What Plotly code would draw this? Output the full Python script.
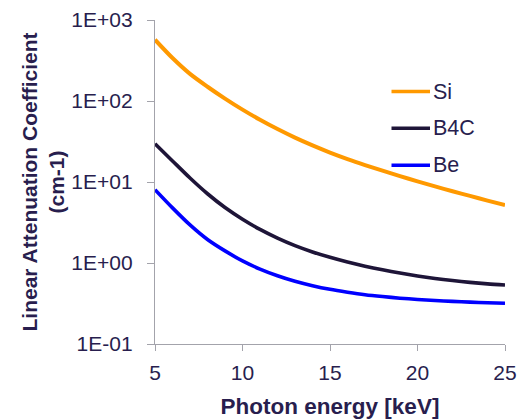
import plotly.graph_objects as go

energy = [5, 6, 7, 8, 9, 10, 11, 12, 13, 14, 15, 16, 17, 18, 19, 20, 21, 22, 23, 24, 25]
si = [571, 339, 216, 150, 107, 78.2, 58.6, 45.0, 35.3, 28.3, 23.1, 19.2, 16.2, 13.8, 11.8,
      10.2, 8.83, 7.69, 6.73, 5.90, 5.19]
b4c = [29.7, 18.2, 11.2, 7.16, 4.84, 3.47, 2.60, 2.03, 1.64, 1.37, 1.175, 1.028, 0.914, 0.824,
       0.752, 0.692, 0.644, 0.607, 0.577, 0.553, 0.535]
be = [8.04, 4.79, 2.95, 1.95, 1.41, 1.06, 0.841, 0.695, 0.594, 0.524, 0.473, 0.436, 0.406, 0.385,
      0.368, 0.355, 0.344, 0.336, 0.329, 0.323, 0.318]

series_names = ["Si", "B4C", "Be"]
series_colors = ["#FF9900", "#1e1538", "#0000FF"]

y_tickvals = [0.1, 1, 10, 100, 1000]
y_ticktext = ["1E-01", "1E+00", "1E+01", "1E+02", "1E+03"]
x_tickvals = [5, 10, 15, 20, 25]

TXT = "#281e4e"
AX = "#a3a3ab"

W, H = 517, 419
L, R, T, B = 155, 12, 20, 75
pw, ph = W - L - R, H - T - B


def px_x(p):
    return (p - L) / pw


def px_y(p):
    return (H - B - p) / ph


fig = go.Figure()
widths = [4, 3.6, 3.6]
for name, ys, col, w in zip(series_names, [si, b4c, be], series_colors, widths):
    fig.add_trace(go.Scatter(x=energy, y=ys, mode="lines", name=name, showlegend=False,
                             line=dict(color=col, width=w, shape="spline", smoothing=0.8)))

# manual legend (long line samples as in the reference)
leg_y = [91.5, 128.3, 165.3]
for name, col, yy in zip(series_names, series_colors, leg_y):
    fig.add_shape(type="line", xref="paper", yref="paper",
                  x0=px_x(391.5), x1=px_x(430), y0=px_y(yy), y1=px_y(yy),
                  line=dict(color=col, width=3.5))
    fig.add_annotation(xref="paper", yref="paper", x=px_x(431), y=px_y(yy),
                       xanchor="left", yanchor="middle", text=name, showarrow=False,
                       font=dict(size=21.5, color=TXT))

fig.update_layout(
    width=W, height=H,
    margin=dict(l=L, r=R, t=T, b=B, autoexpand=False),
    paper_bgcolor="white", plot_bgcolor="white",
    font=dict(family="Liberation Sans, Arial, sans-serif", color=TXT, size=21),
    showlegend=False,
    xaxis=dict(range=[5, 25], tickvals=x_tickvals, showline=True, linecolor=AX, linewidth=1.3,
               ticks="outside", ticklen=6, tickcolor=AX, showgrid=False, zeroline=False,
               automargin=False, ticklabelstandoff=4,
               tickfont=dict(size=21, color=TXT),
               title=dict(text="<b>Photon energy [keV]</b>", font=dict(size=22.5, color=TXT), standoff=14)),
    yaxis=dict(type="log", range=[-1, 3], tickvals=y_tickvals, ticktext=y_ticktext,
               showline=True, linecolor=AX, linewidth=1.3, ticks="outside", ticklen=7,
               tickcolor=AX, showgrid=False, zeroline=False, automargin=False,
               ticklabelstandoff=10,
               tickfont=dict(size=21, color=TXT),
               title=dict(text="<b>Linear Attenuation Coefficient<br>(cm-1)</b>",
                          font=dict(size=21, color=TXT), standoff=0)),
)

fig.write_html("out.html")
